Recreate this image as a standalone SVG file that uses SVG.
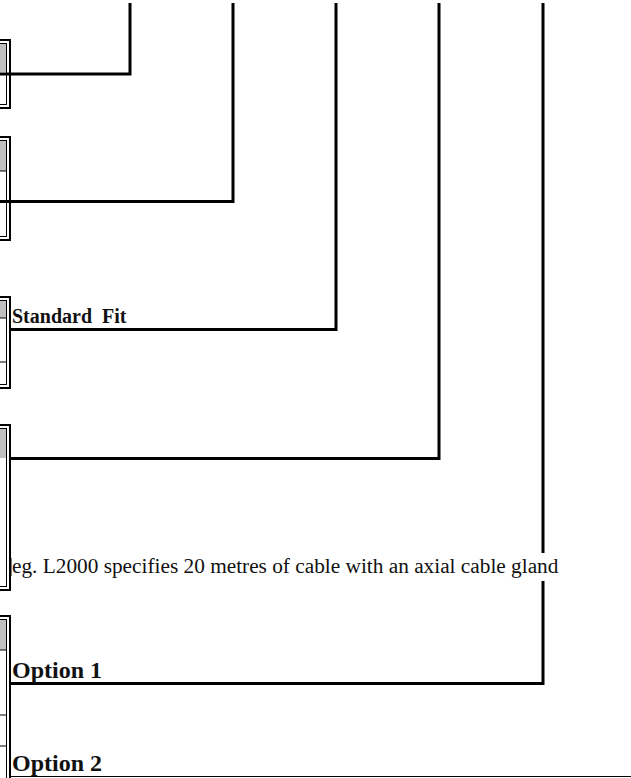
<svg xmlns="http://www.w3.org/2000/svg" width="631" height="778" viewBox="0 0 631 778">
<style>
.outer{fill:none;stroke:#000;stroke-width:2}
.inner{fill:none;stroke:#000;stroke-width:1}
.gray{fill:#c0c0c0}
.thin{stroke:#000;stroke-width:1}
.conn{fill:none;stroke:#000;stroke-width:3}
.bold{font-family:"Liberation Serif",serif;font-weight:bold;font-size:20px;fill:#111}
.big{font-family:"Liberation Serif",serif;font-weight:bold;font-size:24px;fill:#111}
.reg{font-family:"Liberation Serif",serif;font-size:21.3px;fill:#111}
</style>
<rect width="631" height="778" fill="#fff"/>
<g id="connectors">
<polyline class="conn" points="130,3 130,74 0,74"/>
<polyline class="conn" points="233,3 233,201.5 0,201.5"/>
<polyline class="conn" points="336,3 336,329.5 10,329.5"/>
<polyline class="conn" points="439,3 439,458.5 10,458.5"/>
<polyline class="conn" points="543,3 543,683.5 10,683.5"/>
</g>
<g id="box1">
<rect class="gray" x="0" y="43" width="6" height="29"/>
<rect class="outer" x="-10" y="40" width="20" height="68"/>
<rect class="inner" x="-10" y="43.5" width="16.5" height="61"/>
</g>
<g id="box2">
<rect class="gray" x="0" y="140" width="6" height="31"/>
<line class="thin" x1="0" y1="171" x2="6" y2="171"/>
<rect class="outer" x="-10" y="137" width="20" height="103"/>
<rect class="inner" x="-10" y="140.5" width="16.5" height="96"/>
</g>
<g id="box3">
<rect class="gray" x="0" y="300" width="6" height="18"/>
<line class="thin" x1="0" y1="318" x2="6" y2="318"/>
<line class="thin" x1="0" y1="362" x2="6" y2="362"/>
<rect class="outer" x="-10" y="297" width="20" height="91"/>
<rect class="inner" x="-10" y="300.5" width="16.5" height="84"/>
<text class="bold" x="12" y="323" xml:space="preserve">Standard  Fit</text>
</g>
<g id="box4">
<rect class="gray" x="0" y="428" width="6" height="30"/>
<rect class="outer" x="-10" y="425" width="20" height="165"/>
<rect class="inner" x="-10" y="428.5" width="16.5" height="158"/>
<rect x="11" y="553" width="552" height="28" fill="#fff"/>
<line class="thin" x1="11" y1="558" x2="11" y2="576"/>
<text class="reg" x="12" y="573">eg. L2000 specifies 20 metres of cable with an axial cable gland</text>
</g>
<g id="box5">
<rect class="gray" x="0" y="619" width="6" height="31"/>
<line class="thin" x1="0" y1="650" x2="6" y2="650"/>
<line class="thin" x1="0" y1="715" x2="6" y2="715"/>
<line class="thin" x1="0" y1="746" x2="6" y2="746"/>
<rect class="outer" x="-10" y="616" width="20" height="170"/>
<rect class="inner" x="-10" y="619.5" width="16.5" height="170"/>
<text class="big" x="12" y="678">Option 1</text>
<text class="big" x="12" y="771">Option 2</text>
<line class="thin" x1="10" y1="776.5" x2="631" y2="776.5"/>
</g>
</svg>
